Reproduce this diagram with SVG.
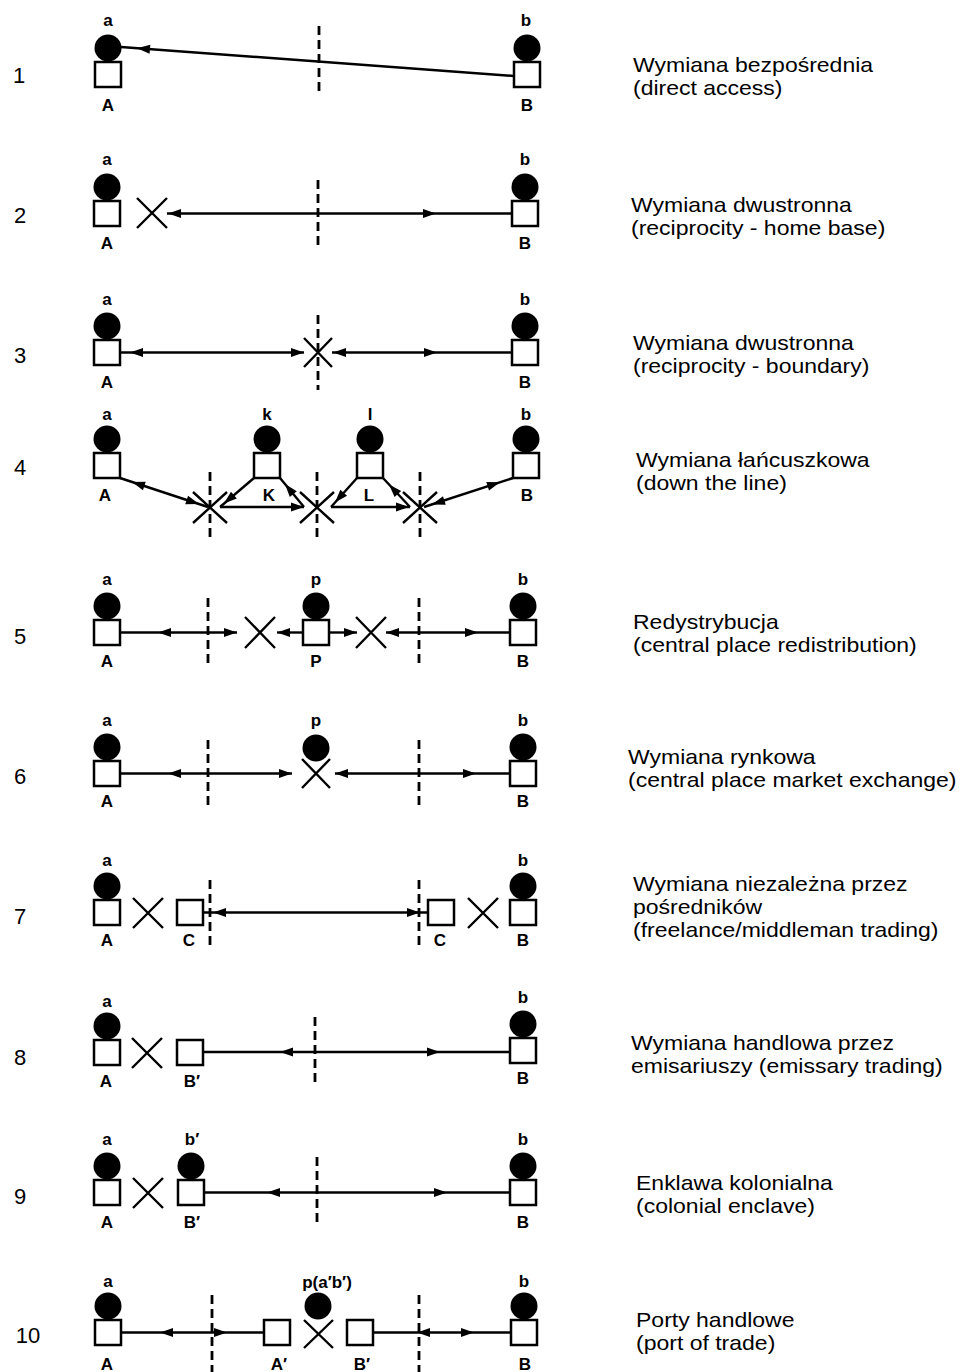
<svg xmlns="http://www.w3.org/2000/svg" xmlns:xlink="http://www.w3.org/1999/xlink" width="962" height="1372" viewBox="0 0 962 1372">
<defs>
<style>
.sq{fill:#fff;stroke:#000;stroke-width:2.5}
.dot{fill:#000}
.ln{stroke:#000;stroke-width:2.4;fill:none}
.dash{stroke:#000;stroke-width:2.8;stroke-dasharray:9 5;fill:none}
.x{stroke:#000;stroke-width:2.4;fill:none}
.lbl{font-family:"Liberation Sans",Arial,sans-serif;font-weight:bold;font-size:17px;text-anchor:middle;fill:#000}
.num{font-family:"Liberation Sans",Arial,sans-serif;font-size:22px;text-anchor:middle;fill:#000}
.desc{font-family:"Liberation Sans",Arial,sans-serif;font-size:20px;fill:#000}
</style>
<path id="ah" d="M0,0 L-13,-4.5 L-13,4.5 Z" fill="#000"/>
</defs>
<rect width="962" height="1372" fill="#fff"/>

<g id="numbers">
<text class="num" x="19" y="83">1</text>
<text class="num" x="20" y="223">2</text>
<text class="num" x="20" y="363">3</text>
<text class="num" x="20" y="475">4</text>
<text class="num" x="20" y="644">5</text>
<text class="num" x="20" y="784">6</text>
<text class="num" x="20" y="924">7</text>
<text class="num" x="20" y="1065">8</text>
<text class="num" x="20" y="1204">9</text>
<text class="num" x="28" y="1343">10</text>
</g>

<g id="descriptions">
<g transform="translate(633,0) scale(1.15,1)"><text class="desc" x="0" y="72">Wymiana bezpośrednia</text><text class="desc" x="0" y="95">(direct access)</text></g>
<g transform="translate(631,0) scale(1.15,1)"><text class="desc" x="0" y="212">Wymiana dwustronna</text><text class="desc" x="0" y="235">(reciprocity - home base)</text></g>
<g transform="translate(633,0) scale(1.15,1)"><text class="desc" x="0" y="350">Wymiana dwustronna</text><text class="desc" x="0" y="373">(reciprocity - boundary)</text></g>
<g transform="translate(636,0) scale(1.15,1)"><text class="desc" x="0" y="467">Wymiana łańcuszkowa</text><text class="desc" x="0" y="490">(down the line)</text></g>
<g transform="translate(633,0) scale(1.15,1)"><text class="desc" x="0" y="629">Redystrybucja</text><text class="desc" x="0" y="652">(central place redistribution)</text></g>
<g transform="translate(628,0) scale(1.15,1)"><text class="desc" x="0" y="764">Wymiana rynkowa</text><text class="desc" x="0" y="787">(central place market exchange)</text></g>
<g transform="translate(633,0) scale(1.15,1)"><text class="desc" x="0" y="891">Wymiana niezależna przez</text><text class="desc" x="0" y="914">pośredników</text><text class="desc" x="0" y="937">(freelance/middleman trading)</text></g>
<g transform="translate(631,0) scale(1.15,1)"><text class="desc" x="0" y="1050">Wymiana handlowa przez</text><text class="desc" x="0" y="1073">emisariuszy (emissary trading)</text></g>
<g transform="translate(636,0) scale(1.15,1)"><text class="desc" x="0" y="1190">Enklawa kolonialna</text><text class="desc" x="0" y="1213">(colonial enclave)</text></g>
<g transform="translate(636,0) scale(1.15,1)"><text class="desc" x="0" y="1327">Porty handlowe</text><text class="desc" x="0" y="1350">(port of trade)</text></g>
</g>

<!-- Row 1 -->
<g id="r1-A"><circle class="dot" cx="108" cy="48" r="13.5"/><rect class="sq" x="95" y="62" width="26" height="25"/><text class="lbl" x="108" y="26">a</text><text class="lbl" x="108" y="111">A</text></g>
<g id="r1-B"><circle class="dot" cx="527" cy="48" r="13.5"/><rect class="sq" x="514" y="62" width="26" height="25"/><text class="lbl" x="526" y="26">b</text><text class="lbl" x="527" y="111">B</text></g>
<g id="r1-boundary"><line class="dash" x1="319" y1="26" x2="319" y2="93"/></g>

<!-- Row 2 -->
<g id="r2-A"><circle class="dot" cx="107" cy="187" r="13.5"/><rect class="sq" x="94" y="201" width="26" height="25"/><text class="lbl" x="107" y="165">a</text><text class="lbl" x="107" y="249">A</text></g>
<g id="r2-X"><path class="x" d="M137,198 L167,228 M167,198 L137,228"/></g>
<g id="r2-B"><circle class="dot" cx="525" cy="187" r="13.5"/><rect class="sq" x="512" y="201" width="26" height="25"/><text class="lbl" x="525" y="165">b</text><text class="lbl" x="525" y="249">B</text></g>
<g id="r2-boundary"><line class="dash" x1="318" y1="180" x2="318" y2="247"/></g>

<!-- Row 3 -->
<g id="r3-A"><circle class="dot" cx="107" cy="326" r="13.5"/><rect class="sq" x="94" y="340" width="26" height="25"/><text class="lbl" x="107" y="305">a</text><text class="lbl" x="107" y="388">A</text></g>
<g id="r3-boundary"><line class="dash" x1="318" y1="315" x2="318" y2="390"/><path class="x" d="M304,338 L332,367 M332,338 L304,367"/></g>
<g id="r3-B"><circle class="dot" cx="525" cy="326" r="13.5"/><rect class="sq" x="512" y="340" width="26" height="25"/><text class="lbl" x="525" y="305">b</text><text class="lbl" x="525" y="388">B</text></g>

<!-- Row 4 -->
<g id="r4-A"><circle class="dot" cx="107" cy="439" r="13.5"/><rect class="sq" x="94" y="453" width="26" height="25"/><text class="lbl" x="107" y="420">a</text><text class="lbl" x="105" y="501">A</text></g>
<g id="r4-K"><circle class="dot" cx="267" cy="439" r="13.5"/><rect class="sq" x="254" y="453" width="26" height="25"/><text class="lbl" x="267" y="420">k</text><text class="lbl" x="269" y="501">K</text></g>
<g id="r4-L"><circle class="dot" cx="370" cy="439" r="13.5"/><rect class="sq" x="357" y="453" width="26" height="25"/><text class="lbl" x="370" y="420">l</text><text class="lbl" x="369" y="501">L</text></g>
<g id="r4-B"><circle class="dot" cx="526" cy="439" r="13.5"/><rect class="sq" x="513" y="453" width="26" height="25"/><text class="lbl" x="526" y="420">b</text><text class="lbl" x="527" y="501">B</text></g>
<g id="r4-star1"><line class="dash" x1="210" y1="472" x2="210" y2="541"/><path class="x" d="M193,492 L227,523 M227,492 L193,523"/></g>
<g id="r4-star2"><line class="dash" x1="317" y1="472" x2="317" y2="541"/><path class="x" d="M300,492 L334,523 M334,492 L300,523"/></g>
<g id="r4-star3"><line class="dash" x1="420" y1="472" x2="420" y2="541"/><path class="x" d="M403,492 L437,523 M437,492 L403,523"/></g>

<!-- Row 5 -->
<g id="r5-A"><circle class="dot" cx="107" cy="606" r="13.5"/><rect class="sq" x="94" y="620" width="26" height="25"/><text class="lbl" x="107" y="585">a</text><text class="lbl" x="107" y="667">A</text></g>
<g id="r5-b1"><line class="dash" x1="208" y1="598" x2="208" y2="665"/></g>
<g id="r5-X1"><path class="x" d="M245,617 L275,648 M275,617 L245,648"/></g>
<g id="r5-P"><circle class="dot" cx="316" cy="606" r="13.5"/><rect class="sq" x="303" y="620" width="26" height="25"/><text class="lbl" x="316" y="585">p</text><text class="lbl" x="316" y="667">P</text></g>
<g id="r5-X2"><path class="x" d="M356,617 L386,648 M386,617 L356,648"/></g>
<g id="r5-b2"><line class="dash" x1="419" y1="598" x2="419" y2="665"/></g>
<g id="r5-B"><circle class="dot" cx="523" cy="606" r="13.5"/><rect class="sq" x="510" y="620" width="26" height="25"/><text class="lbl" x="523" y="585">b</text><text class="lbl" x="523" y="667">B</text></g>

<!-- Row 6 -->
<g id="r6-A"><circle class="dot" cx="107" cy="747" r="13.5"/><rect class="sq" x="94" y="761" width="26" height="25"/><text class="lbl" x="107" y="726">a</text><text class="lbl" x="107" y="807">A</text></g>
<g id="r6-b1"><line class="dash" x1="208" y1="740" x2="208" y2="807"/></g>
<g id="r6-P"><circle class="dot" cx="316" cy="748" r="13.5"/><text class="lbl" x="316" y="726">p</text><path class="x" d="M302,759 L330,788 M330,759 L302,788"/></g>
<g id="r6-b2"><line class="dash" x1="419" y1="740" x2="419" y2="807"/></g>
<g id="r6-B"><circle class="dot" cx="523" cy="747" r="13.5"/><rect class="sq" x="510" y="761" width="26" height="25"/><text class="lbl" x="523" y="726">b</text><text class="lbl" x="523" y="807">B</text></g>

<!-- Row 7 -->
<g id="r7-A"><circle class="dot" cx="107" cy="886" r="13.5"/><rect class="sq" x="94" y="900" width="26" height="25"/><text class="lbl" x="107" y="866">a</text><text class="lbl" x="107" y="946">A</text></g>
<g id="r7-X1"><path class="x" d="M133,898 L163,928 M163,898 L133,928"/></g>
<g id="r7-C1"><rect class="sq" x="177" y="900" width="26" height="25"/><text class="lbl" x="189" y="946">C</text></g>
<g id="r7-b1"><line class="dash" x1="210" y1="880" x2="210" y2="950"/></g>
<g id="r7-b2"><line class="dash" x1="419" y1="880" x2="419" y2="950"/></g>
<g id="r7-C2"><rect class="sq" x="428" y="900" width="26" height="25"/><text class="lbl" x="440" y="946">C</text></g>
<g id="r7-X2"><path class="x" d="M468,898 L498,928 M498,898 L468,928"/></g>
<g id="r7-B"><circle class="dot" cx="523" cy="886" r="13.5"/><rect class="sq" x="510" y="900" width="26" height="25"/><text class="lbl" x="523" y="866">b</text><text class="lbl" x="523" y="946">B</text></g>

<!-- Row 8 -->
<g id="r8-A"><circle class="dot" cx="107" cy="1026" r="13.5"/><rect class="sq" x="94" y="1040" width="26" height="25"/><text class="lbl" x="107" y="1007">a</text><text class="lbl" x="106" y="1087">A</text></g>
<g id="r8-X"><path class="x" d="M132,1038 L162,1068 M162,1038 L132,1068"/></g>
<g id="r8-Bp"><rect class="sq" x="177" y="1040" width="26" height="25"/><text class="lbl" x="192" y="1087">B′</text></g>
<g id="r8-boundary"><line class="dash" x1="315" y1="1017" x2="315" y2="1087"/></g>
<g id="r8-B"><circle class="dot" cx="523" cy="1024" r="13.5"/><rect class="sq" x="510" y="1038" width="26" height="25"/><text class="lbl" x="523" y="1003">b</text><text class="lbl" x="523" y="1084">B</text></g>

<!-- Row 9 -->
<g id="r9-A"><circle class="dot" cx="107" cy="1166" r="13.5"/><rect class="sq" x="94" y="1180" width="26" height="25"/><text class="lbl" x="107" y="1145">a</text><text class="lbl" x="107" y="1228">A</text></g>
<g id="r9-X"><path class="x" d="M133,1178 L163,1208 M163,1178 L133,1208"/></g>
<g id="r9-Bp"><circle class="dot" cx="191" cy="1166" r="13.5"/><rect class="sq" x="178" y="1180" width="26" height="25"/><text class="lbl" x="192" y="1145">b′</text><text class="lbl" x="192" y="1228">B′</text></g>
<g id="r9-boundary"><line class="dash" x1="317" y1="1157" x2="317" y2="1225"/></g>
<g id="r9-B"><circle class="dot" cx="523" cy="1166" r="13.5"/><rect class="sq" x="510" y="1180" width="26" height="25"/><text class="lbl" x="523" y="1145">b</text><text class="lbl" x="523" y="1228">B</text></g>

<!-- Row 10 -->
<g id="r10-A"><circle class="dot" cx="108" cy="1306" r="13.5"/><rect class="sq" x="95" y="1320" width="26" height="25"/><text class="lbl" x="108" y="1287">a</text><text class="lbl" x="107" y="1370">A</text></g>
<g id="r10-b1"><line class="dash" x1="212" y1="1295" x2="212" y2="1372"/></g>
<g id="r10-Ap"><rect class="sq" x="264" y="1320" width="26" height="25"/><text class="lbl" x="279" y="1370">A′</text></g>
<g id="r10-P"><circle class="dot" cx="318" cy="1306" r="13.5"/><text class="lbl" x="327" y="1288">p(a′b′)</text><path class="x" d="M304,1320 L333,1348 M333,1320 L304,1348"/></g>
<g id="r10-Bp"><rect class="sq" x="347" y="1320" width="26" height="25"/><text class="lbl" x="362" y="1370">B′</text></g>
<g id="r10-b2"><line class="dash" x1="419" y1="1295" x2="419" y2="1372"/></g>
<g id="r10-B"><circle class="dot" cx="524" cy="1306" r="13.5"/><rect class="sq" x="511" y="1320" width="26" height="25"/><text class="lbl" x="524" y="1287">b</text><text class="lbl" x="525" y="1370">B</text></g>

<g id="connectors">
<line class="ln" x1="514" y1="76" x2="121" y2="47"/>
<use xlink:href="#ah" transform="translate(137,48.2) rotate(184.2)"/>
<line class="ln" x1="167" y1="213.5" x2="512" y2="213.5"/>
<use xlink:href="#ah" transform="translate(168,213.5) rotate(180)"/>
<use xlink:href="#ah" transform="translate(436,213.5) rotate(0)"/>
<line class="ln" x1="120" y1="352.5" x2="304" y2="352.5"/>
<line class="ln" x1="332" y1="352.5" x2="512" y2="352.5"/>
<use xlink:href="#ah" transform="translate(130,352.5) rotate(180)"/>
<use xlink:href="#ah" transform="translate(304,352.5) rotate(0)"/>
<use xlink:href="#ah" transform="translate(333,352.5) rotate(180)"/>
<use xlink:href="#ah" transform="translate(437,352.5) rotate(0)"/>
<line class="ln" x1="120" y1="478" x2="208" y2="507"/>
<use xlink:href="#ah" transform="translate(132,482) rotate(198.2)"/>
<use xlink:href="#ah" transform="translate(199,504) rotate(18.2)"/>
<line class="ln" x1="254" y1="478" x2="220" y2="507"/>
<use xlink:href="#ah" transform="translate(224,503.5) rotate(139.5)"/>
<line class="ln" x1="280" y1="478" x2="304" y2="507"/>
<use xlink:href="#ah" transform="translate(285,484) rotate(230.4)"/>
<line class="ln" x1="220" y1="507" x2="304" y2="507"/>
<use xlink:href="#ah" transform="translate(304,507) rotate(0)"/>
<line class="ln" x1="357" y1="478" x2="331" y2="507"/>
<use xlink:href="#ah" transform="translate(335,502.5) rotate(131.9)"/>
<line class="ln" x1="383" y1="478" x2="410" y2="507"/>
<use xlink:href="#ah" transform="translate(389,484.5) rotate(227)"/>
<line class="ln" x1="331" y1="507" x2="410" y2="507"/>
<use xlink:href="#ah" transform="translate(409,507) rotate(0)"/>
<line class="ln" x1="513" y1="478" x2="424" y2="507"/>
<use xlink:href="#ah" transform="translate(500,482.3) rotate(-18)"/>
<use xlink:href="#ah" transform="translate(432,504.5) rotate(162)"/>
<line class="ln" x1="120" y1="632.5" x2="237" y2="632.5"/>
<use xlink:href="#ah" transform="translate(158,632.5) rotate(180)"/>
<use xlink:href="#ah" transform="translate(237,632.5) rotate(0)"/>
<line class="ln" x1="277" y1="632.5" x2="303" y2="632.5"/>
<use xlink:href="#ah" transform="translate(277,632.5) rotate(180)"/>
<line class="ln" x1="329" y1="632.5" x2="357" y2="632.5"/>
<use xlink:href="#ah" transform="translate(357,632.5) rotate(0)"/>
<line class="ln" x1="386" y1="632.5" x2="510" y2="632.5"/>
<use xlink:href="#ah" transform="translate(386,632.5) rotate(180)"/>
<use xlink:href="#ah" transform="translate(478,632.5) rotate(0)"/>
<line class="ln" x1="120" y1="773.5" x2="292" y2="773.5"/>
<use xlink:href="#ah" transform="translate(168,773.5) rotate(180)"/>
<use xlink:href="#ah" transform="translate(292,773.5) rotate(0)"/>
<line class="ln" x1="335" y1="773.5" x2="510" y2="773.5"/>
<use xlink:href="#ah" transform="translate(335,773.5) rotate(180)"/>
<use xlink:href="#ah" transform="translate(476,773.5) rotate(0)"/>
<line class="ln" x1="203" y1="912.5" x2="428" y2="912.5"/>
<use xlink:href="#ah" transform="translate(213,912.5) rotate(180)"/>
<use xlink:href="#ah" transform="translate(420,912.5) rotate(0)"/>
<line class="ln" x1="203" y1="1052" x2="510" y2="1052"/>
<use xlink:href="#ah" transform="translate(280,1052) rotate(180)"/>
<use xlink:href="#ah" transform="translate(440,1052) rotate(0)"/>
<line class="ln" x1="204" y1="1192.5" x2="510" y2="1192.5"/>
<use xlink:href="#ah" transform="translate(267,1192.5) rotate(180)"/>
<use xlink:href="#ah" transform="translate(447,1192.5) rotate(0)"/>
<line class="ln" x1="121" y1="1332.5" x2="264" y2="1332.5"/>
<use xlink:href="#ah" transform="translate(160,1332.5) rotate(180)"/>
<use xlink:href="#ah" transform="translate(227,1332.5) rotate(0)"/>
<line class="ln" x1="373" y1="1332.5" x2="511" y2="1332.5"/>
<use xlink:href="#ah" transform="translate(417,1332.5) rotate(180)"/>
<use xlink:href="#ah" transform="translate(474,1332.5) rotate(0)"/>
</g>
</svg>
